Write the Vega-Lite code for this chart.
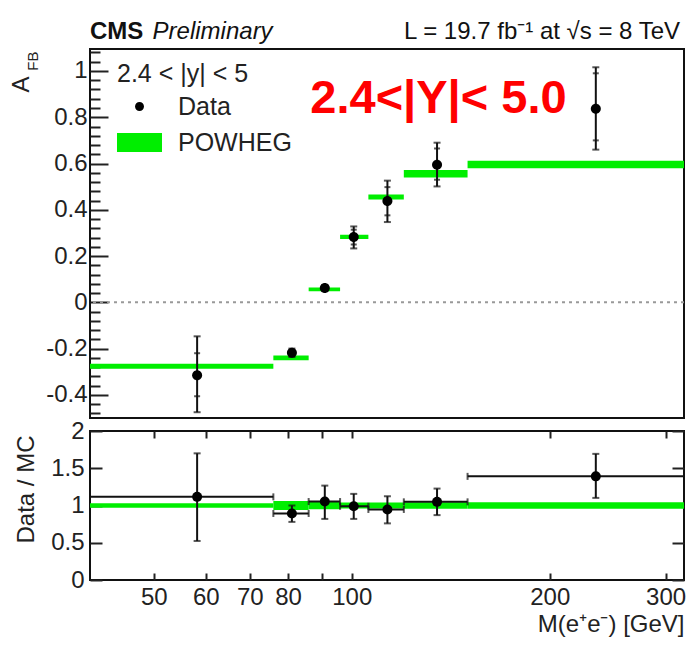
{
"$schema":"https://vega.github.io/schema/vega-lite/v6.json",
"autosize":{"type":"none"},
"padding":{"left":90,"top":49,"right":600,"bottom":605},
"bounds":"flush",
"spacing":13,
"background":"white",
"config":{
 "font":"Liberation Sans",
 "view":{"stroke":"#111","strokeWidth":2},
 "axis":{"grid":false,"domain":false,"tickColor":"#222","tickWidth":2,"labelColor":"#222","labelFont":"Liberation Sans","titleFont":"Liberation Sans","titleFontWeight":"normal","titleColor":"#222","labelFontSize":24,"titleFontSize":24}
},
"datasets":{
 "model":[
  {"lo":40,"hi":76,"ylo":-0.287,"yhi":-0.265,"series":"POWHEG"},
  {"lo":76,"hi":86,"ylo":-0.25,"yhi":-0.23,"series":"POWHEG"},
  {"lo":86,"hi":96,"ylo":0.048,"yhi":0.064,"series":"POWHEG"},
  {"lo":96,"hi":106,"ylo":0.274,"yhi":0.292,"series":"POWHEG"},
  {"lo":106,"hi":120,"ylo":0.444,"yhi":0.466,"series":"POWHEG"},
  {"lo":120,"hi":150,"ylo":0.54,"yhi":0.572,"series":"POWHEG"},
  {"lo":150,"hi":320,"ylo":0.58,"yhi":0.612,"series":"POWHEG"}
 ],
 "afb":[
  {"m":58.2,"afb":-0.315,"lo":-0.475,"hi":-0.147,"slo":-0.406,"shi":-0.22,"series":"Data"},
  {"m":81.1,"afb":-0.218,"lo":-0.236,"hi":-0.2,"slo":-0.23,"shi":-0.206,"series":"Data"},
  {"m":91.0,"afb":0.062,"lo":0.05,"hi":0.075,"slo":0.054,"shi":0.07,"series":"Data"},
  {"m":100.7,"afb":0.282,"lo":0.233,"hi":0.328,"slo":0.25,"shi":0.314,"series":"Data"},
  {"m":113.3,"afb":0.438,"lo":0.347,"hi":0.526,"slo":0.376,"shi":0.498,"series":"Data"},
  {"m":134.8,"afb":0.595,"lo":0.501,"hi":0.69,"slo":0.53,"shi":0.665,"series":"Data"},
  {"m":235,"afb":0.837,"lo":0.66,"hi":1.016,"slo":0.7,"shi":0.99,"series":"Data"}
 ],
 "band":[
  {"lo":40,"hi":76,"rlo":0.97,"rhi":1.03},
  {"lo":76,"hi":86,"rlo":0.94,"rhi":1.06},
  {"lo":86,"hi":96,"rlo":0.95,"rhi":1.05},
  {"lo":96,"hi":106,"rlo":0.96,"rhi":1.04},
  {"lo":106,"hi":120,"rlo":0.96,"rhi":1.04},
  {"lo":120,"hi":150,"rlo":0.955,"rhi":1.045},
  {"lo":150,"hi":320,"rlo":0.955,"rhi":1.045}
 ],
 "ratio":[
  {"m":58.2,"r":1.116,"lo":0.524,"hi":1.7,"mlo":40,"mhi":76},
  {"m":81.1,"r":0.893,"lo":0.78,"hi":1.0,"mlo":76,"mhi":86},
  {"m":91.0,"r":1.053,"lo":0.82,"hi":1.267,"mlo":86,"mhi":96},
  {"m":100.7,"r":0.99,"lo":0.82,"hi":1.156,"mlo":96,"mhi":106},
  {"m":113.3,"r":0.947,"lo":0.76,"hi":1.124,"mlo":106,"mhi":120},
  {"m":134.8,"r":1.049,"lo":0.871,"hi":1.227,"mlo":120,"mhi":150},
  {"m":235,"r":1.391,"lo":1.102,"hi":1.693,"mlo":150,"mhi":320}
 ]
},
"vconcat":[
 {
  "width":594,"height":369,
  "resolve":{"axis":{"y":"independent"}},
  "layer":[
   {"data":{"values":[{}]},
    "mark":{"type":"rule","color":"#999","strokeDash":[3,4],"strokeWidth":2},
    "encoding":{"y":{"datum":0,"type":"quantitative","scale":{"domain":[-0.5,1.095],"nice":false,"zero":false},"axis":null}}},
   {"data":{"name":"model"},
    "mark":{"type":"rect","opacity":1},
    "encoding":{
     "x":{"field":"lo","type":"quantitative","scale":{"type":"log","domain":[40,320],"nice":false},
          "axis":{"orient":"bottom","values":[50,60,70,80,90,100,200,300],"labels":false,"tickSize":-7,"title":null}},
     "x2":{"field":"hi"},
     "y":{"field":"ylo","type":"quantitative","scale":{"domain":[-0.5,1.095],"nice":false,"zero":false},
          "axis":{"orient":"left","values":[-0.4,-0.2,0,0.2,0.4,0.6,0.8,1],"labelExpr":"datum.value < 0 ? '-' + format(-datum.value, '~g') : format(datum.value, '~g')","tickSize":-18,"labelPadding":21,"title":"A","titleFontSize":24,"titleAngle":-90,"titleAlign":"right","titleBaseline":"alphabetic","titleX":-62,"titleY":27}},
     "y2":{"field":"yhi"},
     "color":{"field":"series","type":"nominal","scale":{"domain":["Data","POWHEG"],"range":["#000000","#00ee00"]},
       "legend":{"orient":"none","legendX":27,"legendY":13,"title":"2.4 < |y| < 5","titleFont":"Liberation Sans","titleFontSize":25,"titleFontWeight":"normal","titleColor":"#222","titlePadding":-3,"labelFont":"Liberation Sans","labelFontSize":25,"labelColor":"#222","labelOffset":16,"symbolSize":2025,"symbolStrokeWidth":0,"symbolOpacity":1,"rowPadding":-10,"padding":0,"titleLimit":400,"labelLimit":300}}
    }},
   {"data":{"name":"afb"},
    "mark":{"type":"rule","color":"#111","strokeWidth":2},
    "encoding":{
     "x":{"field":"m","type":"quantitative","scale":{"type":"log","domain":[40,320],"nice":false},"axis":null},
     "y":{"field":"lo","type":"quantitative","scale":{"domain":[-0.5,1.095],"nice":false,"zero":false},"axis":null},
     "y2":{"field":"hi"}}},
   {"data":{"name":"afb"},
    "mark":{"type":"tick","orient":"horizontal","size":7,"thickness":2,"color":"#111"},
    "encoding":{
     "x":{"field":"m","type":"quantitative","scale":{"type":"log","domain":[40,320],"nice":false},"axis":null},
     "y":{"field":"lo","type":"quantitative","scale":{"domain":[-0.5,1.095],"nice":false,"zero":false},"axis":null}}},
   {"data":{"name":"afb"},
    "mark":{"type":"tick","orient":"horizontal","size":7,"thickness":2,"color":"#111"},
    "encoding":{
     "x":{"field":"m","type":"quantitative","scale":{"type":"log","domain":[40,320],"nice":false},"axis":null},
     "y":{"field":"hi","type":"quantitative","scale":{"domain":[-0.5,1.095],"nice":false,"zero":false},"axis":null}}},
   {"data":{"name":"afb"},
    "mark":{"type":"tick","orient":"horizontal","size":6,"thickness":2,"color":"#111"},
    "encoding":{
     "x":{"field":"m","type":"quantitative","scale":{"type":"log","domain":[40,320],"nice":false},"axis":null},
     "y":{"field":"slo","type":"quantitative","scale":{"domain":[-0.5,1.095],"nice":false,"zero":false},"axis":null}}},
   {"data":{"name":"afb"},
    "mark":{"type":"tick","orient":"horizontal","size":6,"thickness":2,"color":"#111"},
    "encoding":{
     "x":{"field":"m","type":"quantitative","scale":{"type":"log","domain":[40,320],"nice":false},"axis":null},
     "y":{"field":"shi","type":"quantitative","scale":{"domain":[-0.5,1.095],"nice":false,"zero":false},"axis":null}}},
   {"data":{"name":"afb"},
    "mark":{"type":"point","filled":true,"opacity":1,"size":2500,"strokeWidth":0},
    "encoding":{
     "x":{"field":"m","type":"quantitative","scale":{"type":"log","domain":[40,320],"nice":false},"axis":null},
     "y":{"field":"afb","type":"quantitative","scale":{"domain":[-0.5,1.095],"nice":false,"zero":false},
          "axis":{"orient":"left","values":[-0.48,-0.44,-0.36,-0.32,-0.28,-0.24,-0.16,-0.12,-0.08,-0.04,0.04,0.08,0.12,0.16,0.24,0.28,0.32,0.36,0.44,0.48,0.52,0.56,0.64,0.68,0.72,0.76,0.84,0.88,0.92,0.96,1.04,1.08],"labels":false,"tickSize":-10,"title":"FB","titleFontSize":15,"titleAngle":-90,"titleAlign":"right","titleBaseline":"alphabetic","titleX":-53,"titleY":2}},
     "color":{"field":"series","type":"nominal","scale":{"domain":["Data","POWHEG"],"range":["#000000","#00ee00"]},
       "legend":{"orient":"none","legendX":27,"legendY":13,"title":"2.4 < |y| < 5","titleFont":"Liberation Sans","titleFontSize":25,"titleFontWeight":"normal","titleColor":"#222","titlePadding":-3,"labelFont":"Liberation Sans","labelFontSize":25,"labelColor":"#222","labelOffset":16,"symbolSize":2025,"symbolStrokeWidth":0,"symbolOpacity":1,"rowPadding":-10,"padding":0,"titleLimit":400,"labelLimit":300}},
     "shape":{"field":"series","type":"nominal","scale":{"domain":["Data","POWHEG"],"range":["M0.2,0A0.2,0.2,0,1,1,-0.2,0A0.2,0.2,0,1,1,0.2,0Z","M-1,-0.42H1V0.42H-1Z"]},
       "legend":{"orient":"none","legendX":27,"legendY":13,"title":"2.4 < |y| < 5","titleFont":"Liberation Sans","titleFontSize":25,"titleFontWeight":"normal","titleColor":"#222","titlePadding":-3,"labelFont":"Liberation Sans","labelFontSize":25,"labelColor":"#222","labelOffset":16,"symbolSize":2025,"symbolStrokeWidth":0,"symbolOpacity":1,"rowPadding":-10,"padding":0,"titleLimit":400,"labelLimit":300}}
    }},
   {"data":{"values":[{}]},
    "mark":{"type":"text","text":"2.4<|Y|< 5.0","color":"#ff0000","font":"Liberation Sans","fontSize":47,"fontWeight":"bold","align":"left","baseline":"alphabetic"},
    "encoding":{
     "x":{"datum":86.5,"type":"quantitative","scale":{"type":"log","domain":[40,320],"nice":false},"axis":null},
     "y":{"datum":0.82,"type":"quantitative","scale":{"domain":[-0.5,1.095],"nice":false,"zero":false},"axis":null}}},
   {"data":{"values":[{}]},
    "mark":{"type":"text","text":"CMS","color":"#111","font":"Liberation Sans","fontSize":24,"fontWeight":"bold","align":"left","baseline":"alphabetic","clip":false},
    "encoding":{
     "x":{"datum":40,"type":"quantitative","scale":{"type":"log","domain":[40,320],"nice":false},"axis":null},
     "y":{"datum":1.14,"type":"quantitative","scale":{"domain":[-0.5,1.095],"nice":false,"zero":false},"axis":null}}},
   {"data":{"values":[{}]},
    "mark":{"type":"text","text":"Preliminary","color":"#111","font":"Liberation Sans","fontSize":24,"fontStyle":"italic","align":"left","baseline":"alphabetic","clip":false},
    "encoding":{
     "x":{"datum":49.8,"type":"quantitative","scale":{"type":"log","domain":[40,320],"nice":false},"axis":null},
     "y":{"datum":1.14,"type":"quantitative","scale":{"domain":[-0.5,1.095],"nice":false,"zero":false},"axis":null}}},
   {"data":{"values":[{}]},
    "mark":{"type":"text","text":"L = 19.7 fb⁻¹ at √s = 8 TeV","color":"#111","font":"Liberation Sans","fontSize":24,"align":"right","baseline":"alphabetic","clip":false},
    "encoding":{
     "x":{"datum":315.6,"type":"quantitative","scale":{"type":"log","domain":[40,320],"nice":false},"axis":null},
     "y":{"datum":1.14,"type":"quantitative","scale":{"domain":[-0.5,1.095],"nice":false,"zero":false},"axis":null}}}
  ]
 },
 {
  "width":594,"height":149,
  "resolve":{"axis":{"x":"independent","y":"independent"}},
  "layer":[
   {"data":{"name":"band"},
    "mark":{"type":"rect","color":"#00ee00","opacity":1},
    "encoding":{
     "x":{"field":"lo","type":"quantitative","scale":{"type":"log","domain":[40,320],"nice":false},
          "axis":{"orient":"bottom","values":[50,60,70,80,90,100,200,300],"labelExpr":"datum.value == 90 ? '' : format(datum.value, 'd')","tickSize":-7,"labelPadding":12,"title":"M(e⁺e⁻) [GeV]","titleAnchor":"end","titleAlign":"right","titleBaseline":"alphabetic","titleX":594,"titleY":51}},
     "x2":{"field":"hi"},
     "y":{"field":"rlo","type":"quantitative","scale":{"domain":[0,2],"nice":false},
          "axis":{"orient":"left","values":[0,0.5,1,1.5,2],"labelExpr":"format(datum.value, '~g')","tickSize":-12,"labelPadding":18,"title":"Data / MC","titleAngle":-90,"titleAlign":"right","titleBaseline":"alphabetic","titleX":-57,"titleY":4}},
     "y2":{"field":"rhi"}}},
   {"data":{"name":"ratio"},
    "mark":{"type":"rule","color":"#111","strokeWidth":2},
    "encoding":{
     "x":{"field":"mlo","type":"quantitative","scale":{"type":"log","domain":[40,320],"nice":false},
          "axis":{"orient":"top","values":[50,60,70,80,90,100,200,300],"labels":false,"tickSize":-7,"title":null}},
     "x2":{"field":"mhi"},
     "y":{"field":"r","type":"quantitative","scale":{"domain":[0,2],"nice":false},
          "axis":{"orient":"right","values":[0,0.5,1,1.5,2],"labels":false,"tickSize":-12,"title":null}}}},
   {"data":{"name":"ratio"},
    "mark":{"type":"rule","color":"#111","strokeWidth":2},
    "encoding":{
     "x":{"field":"m","type":"quantitative","scale":{"type":"log","domain":[40,320],"nice":false},"axis":null},
     "y":{"field":"lo","type":"quantitative","scale":{"domain":[0,2],"nice":false},"axis":null},
     "y2":{"field":"hi"}}},
   {"data":{"name":"ratio"},
    "mark":{"type":"tick","orient":"horizontal","size":7,"thickness":2,"color":"#111"},
    "encoding":{
     "x":{"field":"m","type":"quantitative","scale":{"type":"log","domain":[40,320],"nice":false},"axis":null},
     "y":{"field":"lo","type":"quantitative","scale":{"domain":[0,2],"nice":false},"axis":null}}},
   {"data":{"name":"ratio"},
    "mark":{"type":"tick","orient":"horizontal","size":7,"thickness":2,"color":"#111"},
    "encoding":{
     "x":{"field":"m","type":"quantitative","scale":{"type":"log","domain":[40,320],"nice":false},"axis":null},
     "y":{"field":"hi","type":"quantitative","scale":{"domain":[0,2],"nice":false},"axis":null}}},
   {"data":{"name":"ratio"},
    "mark":{"type":"tick","orient":"vertical","size":7,"thickness":2,"color":"#111"},
    "encoding":{
     "x":{"field":"mlo","type":"quantitative","scale":{"type":"log","domain":[40,320],"nice":false},"axis":null},
     "y":{"field":"r","type":"quantitative","scale":{"domain":[0,2],"nice":false},"axis":null}}},
   {"data":{"name":"ratio"},
    "mark":{"type":"tick","orient":"vertical","size":7,"thickness":2,"color":"#111"},
    "encoding":{
     "x":{"field":"mhi","type":"quantitative","scale":{"type":"log","domain":[40,320],"nice":false},"axis":null},
     "y":{"field":"r","type":"quantitative","scale":{"domain":[0,2],"nice":false},"axis":null}}},
   {"data":{"name":"ratio"},
    "mark":{"type":"point","shape":"circle","filled":true,"opacity":1,"size":100,"color":"#000000","strokeWidth":0},
    "encoding":{
     "x":{"field":"m","type":"quantitative","scale":{"type":"log","domain":[40,320],"nice":false},"axis":null},
     "y":{"field":"r","type":"quantitative","scale":{"domain":[0,2],"nice":false},"axis":null}}}
  ]
 }
]
}
